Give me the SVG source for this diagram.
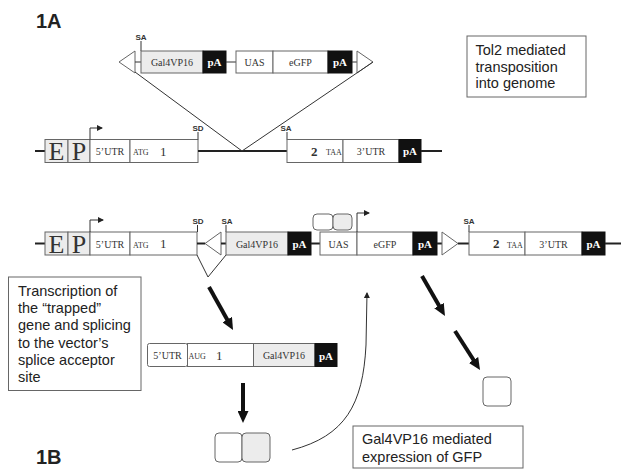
<svg xmlns="http://www.w3.org/2000/svg" width="621" height="469" viewBox="0 0 621 469">
<style>
.bx{fill:#fff;stroke:#666;stroke-width:1}
.gy{fill:#ececec;stroke:#666;stroke-width:1}
.bk{fill:#111;stroke:#111;stroke-width:1}
.ln{stroke:#333;stroke-width:1;fill:none}
.th{stroke:#222;stroke-width:2;fill:none}
.sf{font-family:"Liberation Serif","Times New Roman",serif;fill:#333}
.pa{font-family:"Liberation Serif","Times New Roman",serif;font-weight:bold;font-size:11px;fill:#fff;text-anchor:middle}
.big{font-size:26px;text-anchor:middle}
.s10{font-size:10px;text-anchor:middle}
.sm{font-size:8px}
.one{font-size:13px}
.lab{font-family:"Liberation Sans",Arial,sans-serif;font-weight:bold;font-size:8px;fill:#333;text-anchor:middle}
.tx{font-family:"Liberation Sans",Arial,sans-serif;font-size:14.5px;fill:#222}
.hd{font-family:"Liberation Sans",Arial,sans-serif;font-size:20px;font-weight:bold;fill:#222}
.tb{fill:#fff;stroke:#666;stroke-width:1}
.bold{stroke:#111;stroke-width:4;fill:none;marker-end:url(#bh)}
</style>
<defs>
<marker id="bh" viewBox="0 0 12 11" refX="6" refY="5.5" markerWidth="12" markerHeight="11" markerUnits="userSpaceOnUse" orient="auto"><path d="M0,0 L12,5.5 L0,11 z" fill="#111"/></marker>
<marker id="sh" viewBox="0 0 6 6" refX="5" refY="3" markerWidth="6" markerHeight="6" markerUnits="userSpaceOnUse" orient="auto"><path d="M0,0 L6,3 L0,6 z" fill="#222"/></marker>
</defs>

<text class="hd" x="36" y="28">1A</text>
<text class="hd" x="36" y="464">1B</text>

<!-- Vector construct (top) -->
<g id="vector">
<polygon class="bx" points="119,62 135,51 135,73"/>
<line class="ln" x1="135" y1="62" x2="141" y2="62"/>
<line class="ln" x1="141" y1="41" x2="141" y2="51"/>
<text class="lab" x="141" y="40">SA</text>
<rect class="gy" x="141" y="51" width="62" height="22"/>
<text class="sf s10" x="172" y="65.5">Gal4VP16</text>
<rect class="bk" x="203" y="51" width="23" height="22"/>
<text class="pa" x="214.5" y="66">pA</text>
<line class="ln" x1="226" y1="62" x2="236" y2="62"/>
<rect class="bx" x="236" y="51" width="37" height="22"/>
<text class="sf s10" x="254.5" y="65.5">UAS</text>
<rect class="bx" x="273" y="51" width="55" height="22"/>
<text class="sf s10" x="300.5" y="65.5">eGFP</text>
<rect class="bk" x="328" y="51" width="24" height="22"/>
<text class="pa" x="340" y="66">pA</text>
<line class="ln" x1="352" y1="62" x2="357" y2="62"/>
<polygon class="bx" points="357,51 357,73 373,62"/>
</g>

<g id="tol2-box">
<rect class="tb" x="467" y="36" width="119" height="61"/>
<text class="tx" x="475.5" y="55">Tol2 mediated</text>
<text class="tx" x="475.5" y="71.5">transposition</text>
<text class="tx" x="475.5" y="88">into genome</text>
</g>

<!-- Genome row 1 -->
<g id="gene1">
<line class="th" x1="35" y1="151" x2="45" y2="151"/>
<rect class="gy" x="45" y="139.5" width="23" height="23"/>
<text class="sf big" x="56.5" y="160">E</text>
<rect class="gy" x="68" y="139.5" width="22" height="23"/>
<text class="sf big" x="79" y="160">P</text>
<rect class="bx" x="90" y="139.5" width="40" height="23"/>
<text class="sf s10" x="110" y="155">5’UTR</text>
<rect class="bx" x="130" y="139.5" width="68" height="23"/>
<text class="sf sm" x="133" y="155">ATG</text>
<text class="sf one" x="160" y="155.5">1</text>
<line class="ln" x1="198" y1="132" x2="198" y2="139.5"/>
<text class="lab" x="198" y="131">SD</text>
<line class="th" x1="198" y1="151" x2="287" y2="151"/>
<line class="ln" x1="287" y1="132" x2="287" y2="139.5"/>
<text class="lab" x="286" y="131">SA</text>
<rect class="bx" x="287" y="139.5" width="56" height="23"/>
<text class="sf one" x="311" y="155.5" font-weight="bold">2</text>
<text class="sf sm" x="326" y="155">TAA</text>
<rect class="bx" x="343" y="139.5" width="56" height="23"/>
<text class="sf s10" x="371" y="155">3’UTR</text>
<rect class="bk" x="399" y="139.5" width="22" height="23"/>
<text class="pa" x="410" y="155">pA</text>
<line class="th" x1="421" y1="151" x2="442" y2="151"/>
</g>

<!-- Genome row 2 (trapped) -->
<g id="gene2">
<line class="th" x1="35" y1="243.5" x2="45" y2="243.5"/>
<rect class="gy" x="45" y="232" width="23" height="23"/>
<text class="sf big" x="56.5" y="252.5">E</text>
<rect class="gy" x="68" y="232" width="22" height="23"/>
<text class="sf big" x="79" y="252.5">P</text>
<rect class="bx" x="90" y="232" width="40" height="23"/>
<text class="sf s10" x="110" y="247.5">5’UTR</text>
<rect class="bx" x="130" y="232" width="67" height="23"/>
<text class="sf sm" x="133" y="247.5">ATG</text>
<text class="sf one" x="160" y="248">1</text>
<line class="ln" x1="197.5" y1="225" x2="197.5" y2="232"/>
<text class="lab" x="198" y="224">SD</text>
<line class="th" x1="197" y1="243.5" x2="205" y2="243.5"/>
<polygon class="bx" points="205,243.5 221,232 221,255"/>
<line class="th" x1="221" y1="243.5" x2="226" y2="243.5"/>
<line class="ln" x1="226" y1="225" x2="226" y2="232"/>
<text class="lab" x="227" y="224">SA</text>
<polyline class="ln" points="197,255 208,277 226,255"/>
<rect class="gy" x="226" y="232" width="62" height="23"/>
<text class="sf s10" x="257" y="247.5">Gal4VP16</text>
<rect class="bk" x="288" y="232" width="23" height="23"/>
<text class="pa" x="299.5" y="248">pA</text>
<line class="th" x1="311" y1="243.5" x2="320" y2="243.5"/>
<rect class="bx" x="320" y="232" width="37" height="23"/>
<text class="sf s10" x="338.5" y="247.5">UAS</text>
<rect class="bx" x="357" y="232" width="56" height="23"/>
<text class="sf s10" x="385" y="247.5">eGFP</text>
<rect class="bk" x="413" y="232" width="24" height="23"/>
<text class="pa" x="425" y="248">pA</text>
<line class="th" x1="437" y1="243.5" x2="442" y2="243.5"/>
<polygon class="bx" points="442,232 442,255 458,243.5"/>
<line class="th" x1="458" y1="243.5" x2="469" y2="243.5"/>
<line class="ln" x1="469" y1="225" x2="469" y2="232"/>
<text class="lab" x="469" y="224">SA</text>
<rect class="bx" x="469" y="232" width="56" height="23"/>
<text class="sf one" x="493" y="248" font-weight="bold">2</text>
<text class="sf sm" x="507" y="247.5">TAA</text>
<rect class="bx" x="525" y="232" width="57" height="23"/>
<text class="sf s10" x="553.5" y="247.5">3’UTR</text>
<rect class="bk" x="582" y="232" width="23" height="23"/>
<text class="pa" x="593.5" y="248">pA</text>
<line class="th" x1="605" y1="243.5" x2="621" y2="243.5"/>
</g>

<g id="gal4-bound">
<rect x="313" y="214" width="20" height="16" rx="4" fill="#fff" stroke="#666"/>
<rect x="333" y="214" width="19" height="16" rx="4" fill="#ececec" stroke="#666"/>
</g>

<g id="text-transcription">
<rect class="tb" x="8.5" y="277" width="132.5" height="113.5"/>
<text class="tx" x="18" y="296">Transcription of</text>
<text class="tx" x="18" y="313">the “trapped”</text>
<text class="tx" x="18" y="330">gene and splicing</text>
<text class="tx" x="18" y="347.5">to the vector’s</text>
<text class="tx" x="18" y="364.5">splice acceptor</text>
<text class="tx" x="18" y="381.5">site</text>
</g>

<g id="mrna">
<rect class="bx" x="147.5" y="343.5" width="40" height="23" rx="2"/>
<text class="sf s10" x="167.5" y="359">5’UTR</text>
<rect class="bx" x="187.5" y="343.5" width="66" height="23"/>
<text class="sf sm" x="188.5" y="358.5">AUG</text>
<text class="sf one" x="216" y="359.5">1</text>
<rect class="gy" x="253.5" y="343.5" width="61.5" height="23"/>
<text class="sf s10" x="284" y="359">Gal4VP16</text>
<rect class="bk" x="315" y="343.5" width="22" height="23"/>
<text class="pa" x="326" y="359.5">pA</text>
</g>

<g id="gal4-protein">
<rect x="215" y="433" width="27" height="29" rx="4" fill="#fff" stroke="#666"/>
<rect x="242" y="433" width="28" height="29" rx="4" fill="#ececec" stroke="#666"/>
</g>

<g id="gfp-protein">
<rect x="483" y="377" width="28" height="29" rx="4" fill="#fff" stroke="#666"/>
</g>

<g id="text-gfp">
<rect class="tb" x="353" y="426" width="170" height="42"/>
<text class="tx" x="362" y="443.5">Gal4VP16 mediated</text>
<text class="tx" x="362" y="461.5">expression of GFP</text>
</g>

<g id="connectors">
<line class="ln" x1="135" y1="72" x2="242" y2="151"/>
<line class="ln" x1="373" y1="62" x2="242" y2="151"/>
<polyline class="ln" points="90,139.5 90,128 102,128" marker-end="url(#sh)"/>
<polyline class="ln" points="90,232 90,220 103,220" marker-end="url(#sh)"/>
<polyline class="ln" points="357,232 357,213 369,213" marker-end="url(#sh)"/>
<line class="bold" x1="209" y1="287" x2="230.1" y2="324.8"/>
<line class="bold" x1="422" y1="276" x2="442" y2="310.8"/>
<line class="bold" x1="455" y1="331" x2="476.8" y2="365"/>
<line class="bold" x1="243" y1="383" x2="243" y2="417"/>
<path class="ln" d="M292,450 C345,436 363,405 366,345 L367,293" marker-end="url(#sh)"/>
</g>
</svg>
